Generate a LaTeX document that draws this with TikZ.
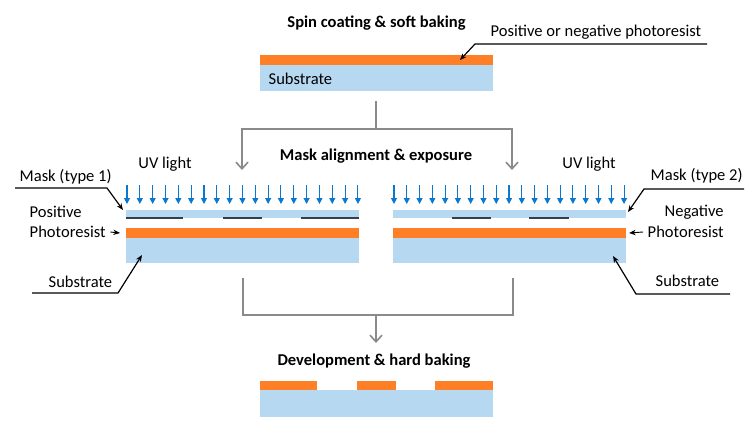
\documentclass[tikz,border=0pt]{standalone}
\usepackage{fontspec}
\setmainfont{Carlito}
\usetikzlibrary{arrows.meta}

\definecolor{resistcol}{HTML}{FF7F27}
\definecolor{substcol}{HTML}{B6D8F0}
\definecolor{uvcol}{HTML}{0A78D0}
\definecolor{flowcol}{HTML}{8A8A8A}
\definecolor{maskcol}{HTML}{333F4F}

\begin{document}
\begin{tikzpicture}[x=0.75pt, y=-0.75pt,
        font=\fontsize{12.4}{14.8}\selectfont,
        layer/.style={inner sep=0pt, outer sep=0pt, minimum width=174.75pt},
        resist/.style={layer, fill=resistcol},
        subst/.style={layer, fill=substcol},
        title/.style={font=\fontsize{12.4}{14.8}\selectfont\bfseries},
        flow/.style={draw=flowcol, line width=1.5pt},
        flowarrow/.style={flow, -{Straight Barb[length=5pt, width=9pt, line width=1.2pt]}},
        lead/.style={draw=black, line width=0.9pt, -{Stealth[length=5pt, width=4pt]}},
        uv/.style={draw=uvcol, line width=0.8pt, -{Triangle[length=4.5pt, width=4.5pt]}}]
        \useasboundingbox (0,0) rectangle (756,429);

        % spin coating
        \node[title] (t0) at (376.5,23) {Spin coating \& soft baking};
        \node[resist, minimum height=7.5pt] (r0) at (376.5,60) {};
        \node[subst, minimum height=19.5pt] (s0) at (376.5,78) {};
        \node[anchor=west] (sl0) at (264,79) {Substrate};
        \node[anchor=west] (pl0) at (486,32) {Positive or negative photoresist};
        \coordinate (pl0a) at (707,44);
        \coordinate (pl0b) at (475,44);
        \coordinate (pl0c) at (460,60);
        \draw[lead] (pl0a) -- (pl0b) -- (pl0c);

        % mask alignment & exposure
        \node[title] (t1) at (376,156) {Mask alignment \& exposure};
        \node[subst, minimum height=6pt] (m1) at (242.5,214) {};
        \node[resist, minimum height=7.5pt] (r1) at (242.5,233) {};
        \node[subst, minimum height=18.75pt] (s1) at (242.5,250.5) {};
        \node[subst, minimum height=6pt] (m2) at (509.5,214) {};
        \node[resist, minimum height=7.5pt] (r2) at (509.5,233) {};
        \node[subst, minimum height=18.75pt] (s2) at (509.5,250.5) {};
        \draw[maskcol, line width=1.2pt] (126,218) -- (183,218);
        \draw[maskcol, line width=1.2pt] (223,218) -- (262,218);
        \draw[maskcol, line width=1.2pt] (301,218) -- (359,218);
        \draw[maskcol, line width=1.2pt] (452,218) -- (491,218);
        \draw[maskcol, line width=1.2pt] (529,218) -- (569,218);
        \foreach \i in {0,...,18} {
            \draw[uv] (127+12.83*\i,185) -- (127+12.83*\i,204);
            \draw[uv] (394+12.78*\i,185) -- (394+12.78*\i,204);
        }
        \node (uv1) at (165,164) {UV light};
        \node (uv2) at (589,164) {UV light};

        % left labels
        \node[anchor=west] (ml1) at (15,177) {Mask (type 1)};
        \node[anchor=west] (pos1) at (25,212) {Positive};
        \node[anchor=west] (pr1) at (25,232) {Photoresist};
        \node[anchor=west] (sl1) at (44,282) {Substrate};
        \coordinate (ml1a) at (15,188);
        \coordinate (ml1b) at (107,188);
        \coordinate (ml1c) at (123,210);
        \coordinate (sl1a) at (32,293);
        \coordinate (sl1b) at (118,293);
        \coordinate (sl1c) at (142,255);
        \draw[lead] (ml1a) -- (ml1b) -- (ml1c);
        \draw[lead] (sl1a) -- (sl1b) -- (sl1c);
        \draw[lead, line width=0.7pt] (pr1.east) -- ([xshift=-4.5pt]r1.west);

        % right labels
        \node[anchor=west] (ml2) at (646,176) {Mask (type 2)};
        \node[anchor=west] (neg2) at (660,212) {Negative};
        \node[anchor=west] (pr2) at (643,232) {Photoresist};
        \node[anchor=west] (sl2) at (651,281) {Substrate};
        \coordinate (ml2a) at (744,189);
        \coordinate (ml2b) at (644,189);
        \coordinate (ml2c) at (628,212);
        \coordinate (sl2a) at (730,294);
        \coordinate (sl2b) at (636,294);
        \coordinate (sl2c) at (613,256);
        \draw[lead] (ml2a) -- (ml2b) -- (ml2c);
        \draw[lead] (sl2a) -- (sl2b) -- (sl2c);
        \draw[lead, line width=0.7pt] (pr2.west) -- ([xshift=2.25pt]r2.east);

        % development
        \node[title] (t2) at (374,361) {Development \& hard baking};
        \node[subst, minimum height=20.25pt] (s3) at (376.5,403.5) {};
        \node[resist, minimum width=42.75pt, minimum height=6.75pt] (b1) at (288.5,385.5) {};
        \node[resist, minimum width=29.25pt, minimum height=6.75pt] (b2) at (376.5,385.5) {};
        \node[resist, minimum width=43.5pt, minimum height=6.75pt] (b3) at (464,385.5) {};

        % flow lines
        \coordinate (f0) at (376,101);
        \coordinate (f1) at (376,129);
        \coordinate (f2) at (242,170);
        \coordinate (f3) at (512,170);
        \coordinate (f4) at (243,278);
        \coordinate (f5) at (513,278);
        \coordinate (f6) at (376,315);
        \coordinate (f7) at (376,343);
        \draw[flow] (f0) -- (f1);
        \draw[flowarrow] (f1) -| (f2);
        \draw[flowarrow] (f1) -| (f3);
        \draw[flow] (f4) |- (f6);
        \draw[flow] (f5) |- (f6);
        \draw[flowarrow] (f6) -- (f7);
    \end{tikzpicture}
\end{document}
